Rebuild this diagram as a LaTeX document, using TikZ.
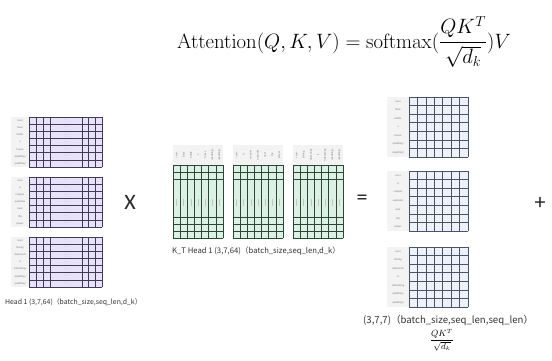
\documentclass[tikz,border=0pt]{standalone}
\usepackage[no-math]{fontspec}
\usepackage{amsmath}
\setmainfont{Carlito}
\newfontfamily\cjkf{Noto Sans CJK SC}
\definecolor{qfill}{HTML}{E7E1FA}
\definecolor{qline}{HTML}{3E3A58}
\definecolor{kfill}{HTML}{DCF1E3}
\definecolor{kline}{HTML}{2C4636}
\definecolor{sfill}{HTML}{EDF1FA}
\definecolor{sline}{HTML}{4A5264}
\definecolor{labfill}{HTML}{F3F3F3}
\definecolor{wordc}{HTML}{7A7A7A}
\tikzset{
  wordtxt/.style={font=\fontsize{2.8}{3}\selectfont, text=wordc, inner sep=0pt},
  dimlabel/.style={font=\cjkf\fontsize{6.9}{9}\selectfont, text=black!80, inner sep=0pt, anchor=west},
  opsym/.style={font=\fontsize{22}{24}\selectfont, text=black!85, inner sep=0pt},
}
% Q block: #1 top y, #2 words
\newcommand{\qblockdraw}[2]{%
  \fill[labfill] (11,#1) rectangle (29,{#1+50});
  \fill[qfill] (29,#1) rectangle (102,{#1+50});
  \foreach \xx in {29,36,43,50,82,88,95,102}
    \draw[qline, line width=0.5pt] (\xx,#1) -- (\xx,{#1+50});
  \foreach \ii in {0,...,7}
    \draw[qline, line width=0.5pt] (29,{#1+\ii*50/7}) -- (102,{#1+\ii*50/7});
  \foreach \ww [count=\ii] in {#2} {
    \node[wordtxt] (qw\ii) at (20,{#1+(\ii-0.5)*50/7}) {\ww};
    \node[wordtxt, text=wordc!60] (qd\ii) at (66,{#1+(\ii-0.5)*50/7}) {......};
  }
}
% K block: #1 left x, #2 words
\newcommand{\kblockdraw}[2]{%
  \fill[labfill] (#1,145) rectangle ({#1+50},165);
  \fill[kfill] (#1,165) rectangle ({#1+50},238);
  \foreach \ii in {0,...,7}
    \draw[kline, line width=0.5pt] ({#1+\ii*50/7},165) -- ({#1+\ii*50/7},238);
  \foreach \yy in {165,172,224,231,238}
    \draw[kline, line width=0.5pt] (#1,\yy) -- ({#1+50},\yy);
  \foreach \yy in {179,217}
    \draw[kline, line width=0.9pt] (#1,\yy) -- ({#1+50},\yy);
  \foreach \ii in {1,...,7}
    \draw[kline!30, line width=0.5pt] ({#1+(\ii-0.5)*50/7},199) -- ({#1+(\ii-0.5)*50/7},206);
  \foreach \ww [count=\ii] in {#2}
    \node[wordtxt, rotate=90] (kw\ii) at ({#1+(\ii-0.5)*50/7},155) {\ww};
}
% score block: #1 top y, #2 words
\newcommand{\sblockdraw}[2]{%
  \fill[labfill] (387,#1) rectangle (409,{#1+60});
  \fill[sfill] (409,#1) rectangle (468,{#1+60});
  \foreach \ii in {0,...,7} {
    \draw[sline, line width=0.6pt] ({409+\ii*59/7},#1) -- ({409+\ii*59/7},{#1+60});
    \draw[sline, line width=0.6pt] (409,{#1+\ii*60/7}) -- (468,{#1+\ii*60/7});
  }
  \foreach \ww [count=\ii] in {#2}
    \node[wordtxt] (sw\ii) at (398,{#1+(\ii-0.5)*60/7}) {\ww};
}
\begin{document}
\begin{tikzpicture}[x=1pt,y=-1pt]
\useasboundingbox (0,0) rectangle (552,360);
\fill[white] (0,0) rectangle (552,360);

\node[inner sep=0pt, anchor=base west, font=\fontsize{20.5}{24}\selectfont] (formula) at (177,48)
  {$\mathrm{Attention}(Q,K,V)=\mathrm{softmax}(\dfrac{QK^T}{\sqrt{d_k}})V$};

% Q matrices
\qblockdraw{117}{<sos>,Slow,bottle,a,house,<padding>,<padding>}
\qblockdraw{177}{<sos>,A,creeper,explodes,near,the,player}
\qblockdraw{237}{<sos>,Strong,diamonds,is,interesting,<padding>,<padding>}
\node[dimlabel] (qlabel) at (5,302) {Head 1 (3,7,64)（batch\_size,seq\_len,d\_k）};

\node[opsym] (times) at (130,202) {X};

% K^T matrices
\kblockdraw{173}{<sos>,Slow,bottle,a,house,<padding>,<padding>}
\kblockdraw{233}{<sos>,A,creeper,explodes,near,the,player}
\kblockdraw{293}{<sos>,Strong,diamonds,is,interesting,<padding>,<padding>}
\node[dimlabel, font=\cjkf\fontsize{7.7}{9}\selectfont] (klabel) at (172,251) {K\_T Head 1 (3,7,64)（batch\_size,seq\_len,d\_k）};

\node[opsym] (equals) at (362,200) {=};

% score matrices
\sblockdraw{97}{<sos>,Slow,bottle,a,house,<padding>,<padding>}
\sblockdraw{171}{<sos>,A,creeper,explodes,near,the,player}
\sblockdraw{247}{<sos>,Strong,diamonds,is,interesting,<padding>,<padding>}
\node[dimlabel, font=\cjkf\fontsize{9.6}{11}\selectfont] (slabel) at (363,320) {(3,7,7)（batch\_size,seq\_len,seq\_len）};
\node[inner sep=0pt, font=\fontsize{8.6}{10}\selectfont] (sfrac) at (442,340) {$\dfrac{QK^T}{\sqrt{d_k}}$};

\node[opsym] (plus) at (540,203) {+};
\end{tikzpicture}
\end{document}
